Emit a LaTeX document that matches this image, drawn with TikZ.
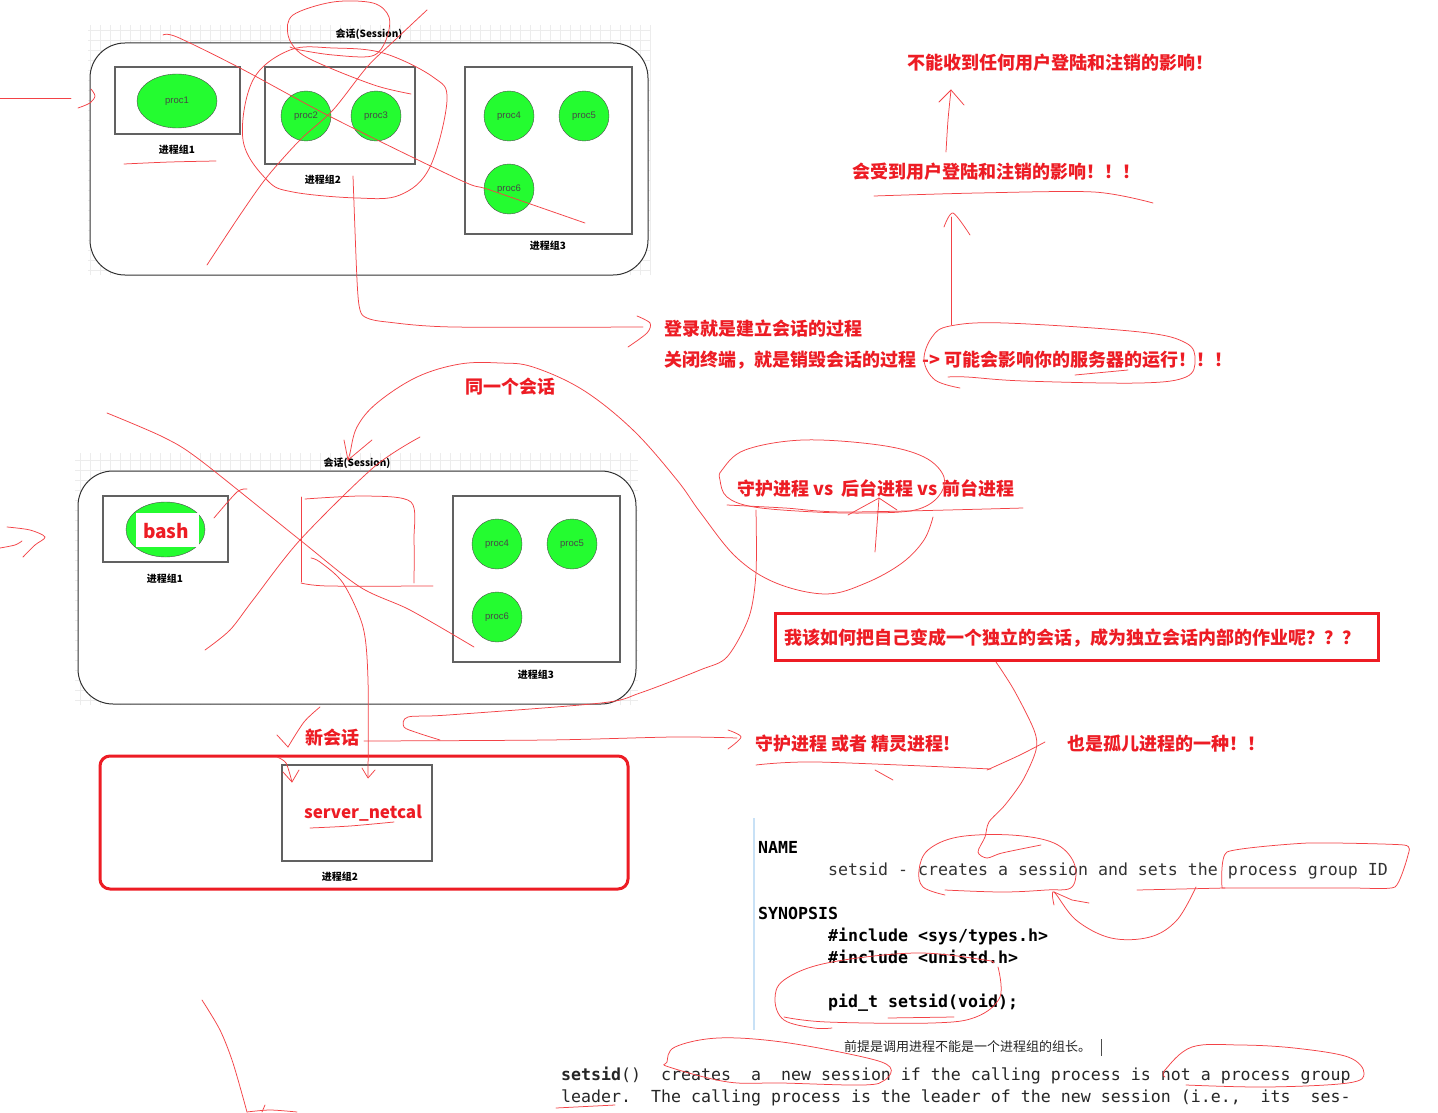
\documentclass[tikz,border=0pt]{standalone}
\usepackage{fontspec}
\setmainfont{Liberation Sans}
\newfontfamily\cjk{Noto Sans CJK SC}
\newfontfamily\mono{DejaVu Sans Mono}
\usetikzlibrary{shapes.geometric}
\definecolor{handred}{RGB}{243,66,70}
\definecolor{txtred}{RGB}{237,28,36}
\definecolor{procgreen}{RGB}{36,252,48}
\definecolor{gridc}{RGB}{236,236,236}
\definecolor{manblue}{RGB}{200,225,246}
\tikzset{
  hand/.style={draw=handred, line width=0.75pt, line cap=round, line join=round},
  sess/.style={draw=black!80, line width=1pt, rounded corners=35pt, fill=white},
  grp/.style={draw=black!62, line width=1.2pt, inner sep=0pt},
  proc/.style={circle, draw=black!70, fill=procgreen, minimum size=50pt, inner sep=0pt, text=black!72, font=\fontsize{9.5}{11}\selectfont},
  glabel/.style={inner sep=0pt, font=\cjk\bfseries\fontsize{10}{12}\selectfont},
  redtxt/.style={inner sep=0pt, anchor=west, text=txtred, font=\cjk\bfseries\fontsize{18}{21}\selectfont},
  mantxt/.style={inner sep=0pt, anchor=west, text height=12pt, text depth=4pt, font=\mono\fontsize{16.6}{20}\selectfont},
  gridbg/.style={draw=gridc, line width=0.5pt}
}
\begin{document}
\begin{tikzpicture}[x=1pt, y=-1pt]
\useasboundingbox (0,0) rectangle (1438,1113);
\fill[white] (0,0) rectangle (1438,1113);

% ---------- top session ----------
\draw[gridbg, step=10pt] (88,25) grid (650,275);
\draw[sess] (90,43) rectangle (648,275);
\node[glabel] (ttitle) at (369,34) {会话(Session)};
\node[grp, minimum width=125pt, minimum height=67pt] (tg1) at (177.5,100.5) {};
\node[grp, minimum width=150pt, minimum height=97pt] (tg2) at (340,115.5) {};
\node[grp, minimum width=167pt, minimum height=167pt] (tg3) at (548.5,150.5) {};
\node[ellipse, draw=black!70, fill=procgreen, minimum width=80pt, minimum height=54pt, inner sep=0pt, text=black!72, font=\fontsize{9.5}{11}\selectfont] (p1) at (177,101) {proc1};
\node[proc] (p2) at (306,116) {proc2};
\node[proc] (p3) at (376,116) {proc3};
\node[proc] (p4) at (509,116) {proc4};
\node[proc] (p5) at (584,116) {proc5};
\node[proc] (p6) at (509,189) {proc6};
\node[glabel] (tl1) at (177,150) {进程组1};
\node[glabel] (tl2) at (323,180) {进程组2};
\node[glabel] (tl3) at (548,246) {进程组3};

% ---------- bottom session ----------
\draw[gridbg, step=10pt] (75,453) grid (638,705);
\draw[sess] (78,471) rectangle (636,704);
\node[glabel] (btitle) at (357,463) {会话(Session)};
\node[grp, minimum width=125pt, minimum height=66pt] (bg1) at (165.5,529) {};
\node[grp, minimum width=167pt, minimum height=166pt] (bg3) at (536.5,579) {};
\node[ellipse, draw=black!70, fill=procgreen, minimum width=79pt, minimum height=55pt, inner sep=0pt] (bash) at (165.5,529.5) {};
\fill[white] (136,513) rectangle (199,547);
\node[inner sep=0pt, text=txtred, font=\cjk\bfseries\fontsize{19}{22}\selectfont] (bashtxt) at (166,531) {bash};
\node[proc] (q4) at (497,544) {proc4};
\node[proc] (q5) at (572,544) {proc5};
\node[proc] (q6) at (497,617) {proc6};
\node[glabel] (bl1) at (165,579) {进程组1};
\node[glabel] (bl3) at (536,675) {进程组3};

% ---------- new session ----------
\draw[draw=txtred, line width=3pt, rounded corners=10pt] (100,756) rectangle (628,889);
\node[grp, minimum width=150pt, minimum height=96pt] (srvbox) at (357,813) {};
\node[inner sep=0pt, text=txtred, font=\cjk\bfseries\fontsize{17}{20}\selectfont] (srv) at (363,813) {server\_netcal};
\node[glabel] (bl2) at (340,877) {进程组2};
\node[redtxt] (newsess) at (305,738) {新会话};

% ---------- red texts ----------
\node[redtxt] (t1) at (907,63) {不能收到任何用户登陆和注销的影响！};
\node[redtxt] (t2) at (852,172) {会受到用户登陆和注销的影响！！！};
\node[redtxt] (t3) at (664,329) {登录就是建立会话的过程};
\node[redtxt] (t4) at (664,360) {关闭终端，就是销毁会话的过程};
\node[redtxt] (t5) at (922,360) {-> 可能会影响你的服务器的运行！！！};
\node[redtxt] (t6) at (465,387) {同一个会话};
\node[redtxt] (t7) at (737,488) {守护进程 vs~~后台进程 vs 前台进程};
\node[draw=txtred, line width=3pt, minimum width=603pt, minimum height=47pt, inner sep=0pt] (qbox) at (1076.5,636.5) {};
\node[redtxt] (t8) at (784,638) {我该如何把自己变成一个独立的会话，成为独立会话内部的作业呢？？？};
\node[redtxt] (t9) at (755,744) {守护进程 或者 精灵进程!};
\node[redtxt] (t10) at (1067,744) {也是孤儿进程的一种！！};

% ---------- man page ----------
\draw[manblue, line width=2pt] (754,818) -- (754,1030);
\node[mantxt, font=\mono\bfseries\fontsize{16.6}{20}\selectfont] (mname) at (758,849) {NAME};
\node[mantxt, text=black!80] (mdesc) at (828,871) {setsid - creates a session and sets the process group ID};
\node[mantxt, font=\mono\bfseries\fontsize{16.6}{20}\selectfont] (msyn) at (758,915) {SYNOPSIS};
\node[mantxt, font=\mono\bfseries\fontsize{16.6}{20}\selectfont] (minc1) at (828,937) {\#include <sys/types.h>};
\node[mantxt, font=\mono\bfseries\fontsize{16.6}{20}\selectfont] (minc2) at (828,959) {\#include <unistd.h>};
\node[mantxt, font=\mono\bfseries\fontsize{16.6}{20}\selectfont] (mproto) at (828,1003) {pid\_t setsid(void);};
\node[inner sep=0pt, anchor=west, text=black!85, font=\cjk\fontsize{13}{15}\selectfont] (note) at (844,1047) {前提是调用进程不能是一个进程组的组长。};
\draw[black!70, line width=0.6pt] (1101,1039) -- (1101,1056);
\node[mantxt, text=black!85] (ml1) at (561,1076) {\textbf{setsid}()~~creates~~a~~new session if the calling process is not a process group};
\node[mantxt, text=black!85] (ml2) at (561,1098) {leader.~~The calling process is the leader of the new session (i.e.,~~its~~ses-};

% ---------- hand strokes: top ----------
\draw[hand] (0,98) -- (71,98);
\draw[hand] plot[smooth] coordinates {(78,108)(90,103)(95,96)(91,89)};
\draw[hand] plot[smooth, tension=0.5] coordinates {(163,35)(177,37)(240,68)(333,118)(460,180)(490,190)(585,223)};
\draw[hand] plot[smooth, tension=0.5] coordinates {(427,10)(395,40)(367,67)(333,110)(300,140)(267,177)(240,215)(207,265)};
\draw[hand] plot[smooth, tension=0.55] coordinates {(411,94)(377,86)(330,68)(300,53)(288,35)(293,15)(333,2)(373,3)(389,17)(386,40)(372,56)(333,55)(300,50)(290,47)};
\draw[hand] plot[smooth cycle, tension=0.6] coordinates {(253,80)(243,140)(267,180)(293,192)(357,198)(400,195)(430,167)(447,100)(433,77)(383,53)(333,48)(290,50)};
\draw[hand] plot[smooth, tension=0.5] coordinates {(353,176)(357,280)(360,310)(367,318)(387,322)(453,327)(643,327)};
\draw[hand] plot[smooth] coordinates {(637,316)(650,323)(647,333)(628,347)};
\draw[hand] plot[smooth] coordinates {(124,164)(170,162)(216,161)};

% ---------- hand strokes: top right ----------
\draw[hand] plot[smooth] coordinates {(946,152)(948,120)(951,90)};
\draw[hand] (939,102) -- (951,90) -- (964,105);
\draw[hand] plot[smooth] coordinates {(874,196)(978,193)(1094,192)(1153,203)};
\draw[hand] (951,325) -- (951,217);
\draw[hand] plot[smooth] coordinates {(944,227)(953,213)(970,235)};
\draw[hand] plot[smooth, tension=0.6] coordinates {(960,388)(935,380)(924,360)(932,337)(950,326)(1005,323)(1140,332)(1186,343)(1195,360)(1186,377)(1140,383)(1024,381)(967,377)(948,377)};
\draw[hand] (1075,375) -- (1128,370);

% ---------- hand strokes: middle ----------
\draw[hand] plot[smooth, tension=0.6] coordinates {(348,460)(350,453)(357,427)(377,403)(417,377)(460,364)(500,363)(533,367)(583,390)(633,430)(677,480)(700,512)(736,557)(776,583)(826,594)(866,583)(902,563)(924,540)(933,517)};
\draw[hand] (344,440) -- (348,460) -- (372,440);
\draw[hand] plot[smooth, tension=0.5] coordinates {(420,437)(374,467)(300,540)(253,600)(230,630)(205,650)};
\draw[hand] plot[smooth, tension=0.5] coordinates {(107,413)(163,437)(200,460)(300,540)(360,587)(410,610)(474,647)};
\draw[hand] plot[smooth] coordinates {(214,518)(237,492)(247,489)};
\draw[hand] plot[smooth] coordinates {(7,527)(30,530)(45,537)(35,545)(23,557)};
\draw[hand] plot[smooth] coordinates {(0,548)(15,545)(22,541)};
\draw[hand] (301,497) -- (301,582);
\draw[hand] plot[smooth] coordinates {(305,499)(366,496)(411,502)(414,540)(414,583)};
\draw[hand] plot[smooth] coordinates {(301,583)(328,586)(433,586)};
\draw[hand] plot[smooth, tension=0.5] coordinates {(311,558)(320,562)(343,583)(363,627)(368,680)(368,777)};
\draw[hand] (362,768) -- (368,778) -- (375,770);
\draw[hand] plot[smooth] coordinates {(320,707)(304,722)(288,747)};
\draw[hand] (277,735) -- (288,747);
\draw[hand] plot[smooth] coordinates {(277,757)(286,763)(292,782)};
\draw[hand] (283,772) -- (292,782) -- (299,770);
\draw[hand] plot[smooth] coordinates {(310,828)(350,826)(394,822)};
\draw[hand] plot[smooth] coordinates {(364,741)(548,740)(674,737)(737,738)};
\draw[hand] plot[smooth] coordinates {(728,730)(741,737)(728,749)};
\draw[hand] plot[smooth, tension=0.5] coordinates {(756,510)(756,573)(749,617)(727,657)(700,670)(640,693)(601,703)(448,715)(408,717)(404,727)(418,733)(440,740)};

% ---------- hand strokes: right ----------
\draw[hand] plot[smooth cycle, tension=0.6] coordinates {(754,507)(727,497)(720,480)(722,470)(745,450)(803,440)(879,445)(924,457)(944,477)(938,497)(915,510)(870,513)(815,512)};
\draw[hand] plot[smooth] coordinates {(727,505)(785,508)(848,512)(1023,508)};
\draw[hand] (875,552) -- (879,498);
\draw[hand] (848,515) -- (879,498) -- (897,510);
\draw[hand] plot[smooth, tension=0.5] coordinates {(996,662)(1014,690)(1034,730)(1036,750)(1023,780)(1005,805)(989,822)(985,837)(978,852)(987,858)(1002,853)(1041,845)};
\draw[hand] plot[smooth] coordinates {(987,770)(1020,755)(1045,742)};
\draw[hand] plot[smooth] coordinates {(756,765)(817,762)(991,769)};
\draw[hand] (875,770) -- (893,780);

% ---------- hand strokes: man page ----------
\draw[hand] plot[smooth, tension=0.6] coordinates {(945,895)(923,887)(919,870)(928,850)(958,837)(1011,835)(1054,843)(1074,863)(1072,887)(1046,890)(1002,892)(945,890)};
\draw[hand] plot[smooth, tension=0.6] coordinates {(1054,905)(1054,892)(1076,920)(1111,938)(1150,937)(1177,920)(1196,887)};
\draw[hand] (1054,892) -- (1072,900) -- (1089,903);
\draw[hand] (1137,890) -- (1225,888);
\draw[hand] plot[smooth, tension=0.3] coordinates {(1222,888)(1227,852)(1308,843)(1404,845)(1408,855)(1395,887)(1351,888)(1222,888)};
\draw[hand] plot[smooth, tension=0.6] coordinates {(993,963)(985,960)(915,953)(827,963)(784,980)(775,1000)(784,1020)(814,1028)(832,1028)};
\draw[hand] plot[smooth, tension=0.6] coordinates {(784,1017)(827,1022)(932,1023)(976,1017)(1000,997)(998,967)};
\draw[hand] (888,1018) -- (954,1017);
\draw[hand] plot[smooth cycle, tension=0.6] coordinates {(667,1062)(675,1047)(718,1038)(782,1042)(863,1057)(890,1067)(885,1080)(863,1085)(782,1083)(728,1082)(669,1067)};
\draw[hand] plot[smooth, tension=0.6] coordinates {(1165,1077)(1165,1070)(1192,1047)(1240,1045)(1294,1048)(1348,1057)(1364,1073)(1348,1083)(1267,1087)(1186,1085)};
\draw[hand] (556,1108) -- (615,1105);
\draw[hand] plot[smooth] coordinates {(202,1000)(220,1030)(233,1063)(247,1112)};
\draw[hand] plot[smooth] coordinates {(247,1112)(270,1110)(297,1112)};
\draw[hand] (265,1105) -- (262,1112);
\end{tikzpicture}
\end{document}
